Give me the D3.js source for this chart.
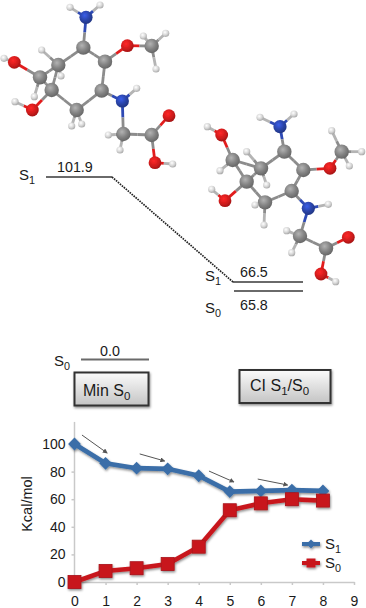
<!DOCTYPE html>
<html>
<head>
<meta charset="utf-8">
<script src="https://cdnjs.cloudflare.com/ajax/libs/d3/7.8.5/d3.min.js"></script>
<style>
  html, body { margin: 0; padding: 0; background: #fff; }
  svg { display: block; }
  text { font-family: "Liberation Sans", Arial, sans-serif; fill: #1a1a1a; }
  .axis path, .axis line { stroke: #c9c9c9; stroke-width: 1.5; }
  .axis text { font-size: 14px; fill: #1a1a1a; font-family: "Liberation Sans", Arial, sans-serif; }
</style>
</head>
<body>
<svg id="chart" width="366" height="608"></svg>
<script>
// reaction path chart
var steps = [0, 1, 2, 3, 4, 5, 6, 7, 8];
var s1Values = [100, 86, 82.5, 82, 77, 65.5, 66, 66.6, 66];
var s0Values = [0, 8, 10, 13, 25.6, 52, 57, 60, 59];
var yTicks = [0, 20, 40, 60, 80, 100];
var xTicks = [0, 1, 2, 3, 4, 5, 6, 7, 8, 9];
// arrows next to the S1 curve, [x1, y1, x2, y2] in chart units
var pathArrows = [
  [0.24, 106.5, 1.05, 93.5],
  [2.1, 92.8, 2.9, 87.7],
  [4.33, 80.4, 5.13, 72.5],
  [5.9, 74.6, 6.86, 70.3]
];

// molecules: [element, x, y], bonds are index pairs
var atomsA = [
  ["H",210,22],["H",300,15],["N",258,52],["C",250,143],["C",315,185],["O",382,137],["C",455,138],
  ["H",430,108],["H",497,100],["H",468,207],["C",305,272],["N",367,303],["H",410,265],["C",370,402],
  ["H",325,405],["H",360,450],["C",455,405],["O",507,347],["O",465,488],["H",518,492],["C",230,330],
  ["H",215,378],["H",245,372],["C",155,270],["O",97,330],["H",45,305],["C",120,232],["O",43,187],
  ["H",12,175],["H",103,290],["C",175,195],["H",125,150],["H",183,228]
];
var atomsB = [
  ["H",210,22],["H",312,12],["N",270,50],["C",283,125],["C",340,180],["O",420,175],["C",455,125],
  ["H",425,62],["H",515,125],["H",478,168],["C",305,243],["N",355,295],["H",415,283],["C",330,378],
  ["H",290,362],["H",305,428],["C",408,415],["O",475,382],["O",393,492],["H",437,515],["C",225,277],
  ["H",195,285],["H",222,345],["C",170,215],["O",105,272],["H",65,238],["C",128,150],["O",95,75],
  ["H",52,50],["H",90,182],["C",213,175],["H",170,125],["H",230,225]
];
var bonds = [
  [0,2],[1,2],[2,3],[3,4],[4,5],[5,6],[6,7],[6,8],[6,9],[4,10],[10,11],[11,12],[11,13],[13,14],[13,15],
  [13,16],[16,17],[16,18],[18,19],[10,20],[20,21],[20,22],[20,23],[23,24],[24,25],[23,26],[26,27],[27,28],
  [26,29],[26,30],[23,30],[30,3],[30,31],[30,32]
];
var elementColor = { H: "#d6d6d6", C: "#828282", N: "#2a44a8", O: "#d21c1c" };
var elementRadius = { H: 3.6, C: 7.2, N: 6.6, O: 6.4 };

var svg = d3.select("#chart");
var defs = svg.append("defs");

function setDefs() {
  Object.keys(elementColor).forEach(function(k) {
    var g = defs.append("radialGradient").attr("id", "atom" + k)
      .attr("cx", "40%").attr("cy", "35%").attr("r", "70%");
    g.append("stop").attr("offset", "0%").attr("stop-color", d3.color(elementColor[k]).brighter(0.9));
    g.append("stop").attr("offset", "55%").attr("stop-color", elementColor[k]);
    g.append("stop").attr("offset", "100%").attr("stop-color", d3.color(elementColor[k]).darker(0.8));
  });
  var btn = defs.append("linearGradient").attr("id", "btnFill")
    .attr("x1", 0).attr("y1", 0).attr("x2", 0).attr("y2", 1);
  btn.append("stop").attr("offset", "0%").attr("stop-color", "#fbfbfb");
  btn.append("stop").attr("offset", "100%").attr("stop-color", "#c4c4c4");
  var soft = defs.append("filter").attr("id", "soft");
  soft.append("feGaussianBlur").attr("stdDeviation", 0.5);
  var shadow = defs.append("filter").attr("id", "shadow")
    .attr("x", "-20%").attr("y", "-20%").attr("width", "140%").attr("height", "150%");
  shadow.append("feDropShadow").attr("dx", 0.8).attr("dy", 1.5).attr("stdDeviation", 1.1)
    .attr("flood-color", "#000").attr("flood-opacity", 0.45);
  defs.append("marker").attr("id", "head")
    .attr("viewBox", "0 0 6 6").attr("refX", 5).attr("refY", 3)
    .attr("markerWidth", 5).attr("markerHeight", 5).attr("orient", "auto")
    .append("path").attr("d", "M0,0L6,3L0,6Z").attr("fill", "#555");
}

function drawMolecule(atoms, left, top) {
  // picture crops were read at 3x
  var mx = d3.scaleLinear().domain([0, 3]).range([left, left + 1]);
  var my = d3.scaleLinear().domain([0, 3]).range([top, top + 1]);
  var g = svg.append("g").attr("filter", "url(#soft)");
  bonds.forEach(function(b) {
    var a1 = atoms[b[0]], a2 = atoms[b[1]];
    var midX = (a1[1] + a2[1]) / 2, midY = (a1[2] + a2[2]) / 2;
    [[a1, midX, midY], [a2, midX, midY]].forEach(function(h) {
      g.append("line")
        .attr("x1", mx(h[0][1])).attr("y1", my(h[0][2]))
        .attr("x2", mx(h[1])).attr("y2", my(h[2]))
        .attr("stroke", h[0][0] == "H" ? "#b4b4b4" : d3.color(elementColor[h[0][0]]).brighter(0.2))
        .attr("stroke-width", 2.8);
    });
  });
  g.selectAll("circle").data(atoms).enter().append("circle")
    .attr("cx", function(d) { return mx(d[1]); })
    .attr("cy", function(d) { return my(d[2]); })
    .attr("r", function(d) { return elementRadius[d[0]]; })
    .attr("fill", function(d) { return "url(#atom" + d[0] + ")"; });
}

// text with a subscript, e.g. label(x, y, "S", "1")
function label(x, y, main, sub, size, tail, sub2) {
  var t = svg.append("text").attr("x", x).attr("y", y).attr("font-size", size);
  t.append("tspan").text(main);
  if (sub) t.append("tspan").attr("dy", size * 0.25).attr("font-size", size * 0.72).text(sub);
  if (tail) t.append("tspan").attr("dy", -size * 0.25).text(tail);
  if (sub2) t.append("tspan").attr("dy", size * 0.25).attr("font-size", size * 0.72).text(sub2);
  return t;
}

function drawLevels() {
  var levels = [
    { x1: 46, x2: 112, y: 177, value: "101.9", tx: 57, ty: 172, state: "1", sx: 19, sy: 180 },
    { x1: 233, x2: 303, y: 282, value: "66.5", tx: 240, ty: 277, state: "1", sx: 205, sy: 281 },
    { x1: 234, x2: 303, y: 291, value: "65.8", tx: 240, ty: 310, state: "0", sx: 205, sy: 313 },
    { x1: 81, x2: 149, y: 359.5, value: "0.0", tx: 100, ty: 356, state: "0", sx: 54, sy: 366 }
  ];
  levels.forEach(function(d) {
    svg.append("line").attr("x1", d.x1).attr("x2", d.x2).attr("y1", d.y).attr("y2", d.y)
      .attr("stroke", "#6a6a6a").attr("stroke-width", 1.8);
    svg.append("text").attr("x", d.tx).attr("y", d.ty).attr("font-size", 14.3).text(d.value);
    label(d.sx, d.sy, "S", d.state, 15);
  });
  svg.append("line").attr("x1", levels[0].x2).attr("y1", levels[0].y)
    .attr("x2", levels[1].x1).attr("y2", levels[1].y)
    .attr("stroke", "#222").attr("stroke-width", 1.7).attr("stroke-dasharray", "1.6 1");
}

function drawButtons() {
  svg.append("rect").attr("x", 74.5).attr("y", 372.5).attr("width", 74).attr("height", 33)
    .attr("fill", "url(#btnFill)").attr("stroke", "#333").attr("stroke-width", 2)
    .attr("filter", "url(#shadow)");
  label(83, 396, "Min S", "0", 16);
  svg.append("rect").attr("x", 239.5).attr("y", 370).attr("width", 91).attr("height", 33)
    .attr("fill", "url(#btnFill)").attr("stroke", "#333").attr("stroke-width", 2)
    .attr("filter", "url(#shadow)");
  label(250, 391, "CI S", "1", 16, "/S", "0");
}

function drawPlot() {
  var x = d3.scaleLinear().domain([0, 9]).range([74.5, 354]);
  var y = d3.scaleLinear().domain([0, 100]).range([582, 444]);

  var xAxis = d3.axisBottom(x).tickValues(xTicks).tickSize(3).tickSizeOuter(0).tickPadding(11);
  svg.append("g").attr("class", "axis")
    .attr("transform", "translate(0," + y(0) + ")")
    .call(xAxis);

  var yAxis = d3.axisLeft(y).tickValues(yTicks).tickSize(3).tickSizeOuter(0).tickPadding(6);
  var yg = svg.append("g").attr("class", "axis")
    .attr("transform", "translate(" + x(0) + ",0)")
    .call(yAxis);
  yg.select(".domain").attr("d", "M0," + y(0) + "V" + y(116));

  svg.append("text")
    .attr("text-anchor", "middle")
    .attr("transform", "translate(32,504) rotate(-90)")
    .attr("font-size", 14.5)
    .text("Kcal/mol");

  var line = d3.line()
    .x(function(d, i) { return x(steps[i]); })
    .y(function(d) { return y(d); });

  var blue = "#3a6ea8", red = "#c8191f";
  var series = svg.append("g").attr("filter", "url(#shadow)");
  series.append("path").datum(s1Values).attr("d", line)
    .attr("fill", "none").attr("stroke", blue).attr("stroke-width", 4.6);
  series.selectAll(".s1mark").data(s1Values).enter().append("path")
    .attr("class", "s1mark")
    .attr("d", d3.symbol(d3.symbolSquare, 82))
    .attr("transform", function(d, i) { return "translate(" + x(steps[i]) + "," + y(d) + ") rotate(45)"; })
    .attr("fill", blue);

  series.append("path").datum(s0Values).attr("d", line)
    .attr("fill", "none").attr("stroke", red).attr("stroke-width", 4.6);
  series.selectAll(".s0mark").data(s0Values).enter().append("rect")
    .attr("class", "s0mark")
    .attr("x", function(d, i) { return x(steps[i]) - 6.5; })
    .attr("y", function(d) { return y(d) - 6.5; })
    .attr("width", 13).attr("height", 13)
    .attr("fill", red).attr("stroke", "#a81218").attr("stroke-width", 0.8);

  svg.selectAll(".pathArrow").data(pathArrows).enter().append("line")
    .attr("class", "pathArrow")
    .attr("x1", function(d) { return x(d[0]); })
    .attr("y1", function(d) { return y(d[1]); })
    .attr("x2", function(d) { return x(d[2]); })
    .attr("y2", function(d) { return y(d[3]); })
    .attr("stroke", "#555").attr("stroke-width", 1)
    .attr("marker-end", "url(#head)");

  // legend
  var legend = svg.append("g").attr("filter", "url(#shadow)");
  legend.append("line").attr("x1", 302).attr("x2", 320).attr("y1", 544).attr("y2", 544)
    .attr("stroke", blue).attr("stroke-width", 4);
  legend.append("path").attr("d", d3.symbol(d3.symbolSquare, 42))
    .attr("transform", "translate(311,544) rotate(45)").attr("fill", blue);
  legend.append("line").attr("x1", 302).attr("x2", 320).attr("y1", 563).attr("y2", 563)
    .attr("stroke", red).attr("stroke-width", 4);
  legend.append("rect").attr("x", 306.5).attr("y", 558.5).attr("width", 9).attr("height", 9).attr("fill", red);
  label(325, 549, "S", "1", 15);
  label(325, 568, "S", "0", 15);
}

setDefs();
drawMolecule(atomsA, 0, 0);
drawMolecule(atomsB, 190, 110);
drawLevels();
drawButtons();
drawPlot();
</script>
</body>
</html>
